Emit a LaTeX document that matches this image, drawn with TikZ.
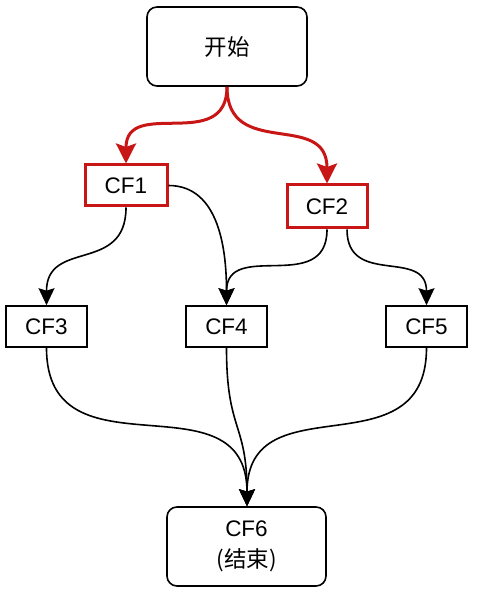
\documentclass[tikz,border=0pt]{standalone}
\usepackage{fontspec}
\setmainfont{Liberation Sans}
\newfontfamily\cjk{Noto Sans CJK SC}
\usetikzlibrary{arrows.meta}
\definecolor{cfred}{RGB}{200,22,22}
\tikzset{
  lbl/.style={font=\fontsize{22.5}{31}\selectfont, align=center, inner sep=0pt},
  roundbox/.style={lbl, draw=black, line width=1.6pt, rounded corners=10pt, fill=white},
  plainbox/.style={lbl, draw=black, line width=1.6pt, minimum width=81pt, minimum height=41pt, fill=white},
  redbox/.style={lbl, draw=cfred, line width=3pt, fill=white},
  blackedge/.style={draw=black, line width=1.6pt, looseness=1.35, -{Stealth[length=17pt,width=16pt,inset=2.5pt]}},
  rededge/.style={draw=cfred, line width=3pt, looseness=1.35, -{Stealth[length=20pt,width=20pt,inset=3.5pt]}},
}
\begin{document}
\begin{tikzpicture}[x=1pt,y=1pt]
\useasboundingbox (0,0) rectangle (484,604);
\fill[white] (0,0) rectangle (484,604);
\node[roundbox, minimum width=160pt, minimum height=79pt] (start) at (227,557.5) {\cjk 开始};
\node[redbox, minimum width=82pt, minimum height=41pt] (cf1) at (126,418.5) {CF1};
\node[redbox, minimum width=80pt, minimum height=43pt] (cf2) at (327,397.5) {CF2};
\node[plainbox] (cf3) at (46.5,277.5) {CF3};
\node[plainbox] (cf4) at (226.5,277.5) {CF4};
\node[plainbox] (cf5) at (426.5,277.5) {CF5};
\node[roundbox, minimum width=159pt, minimum height=79pt] (cf6) at (246.5,57.5) {CF6\\{\cjk (结束)}};
\coordinate (cf2a) at ([xshift=20pt]cf2.south);
\coordinate (cf6in) at ([xshift=0.5pt]cf6.north);
\draw[rededge] (start.south) to[out=-90,in=90] (cf1.north);
\draw[rededge] (start.south) to[out=-90,in=90] (cf2.north);
\draw[blackedge] (cf1.south) to[out=-90,in=90] (cf3.north);
\draw[blackedge] (cf1.east) to[out=0,in=90,looseness=1] (cf4.north);
\draw[blackedge] (cf2.south) to[out=-90,in=90] (cf4.north);
\draw[blackedge] (cf2a) to[out=-90,in=90] (cf5.north);
\draw[blackedge] (cf3.south) to[out=-90,in=90] (cf6in);
\draw[blackedge] (cf4.south) to[out=-90,in=90] (cf6in);
\draw[blackedge] (cf5.south) to[out=-90,in=90] (cf6in);
\end{tikzpicture}
\end{document}
